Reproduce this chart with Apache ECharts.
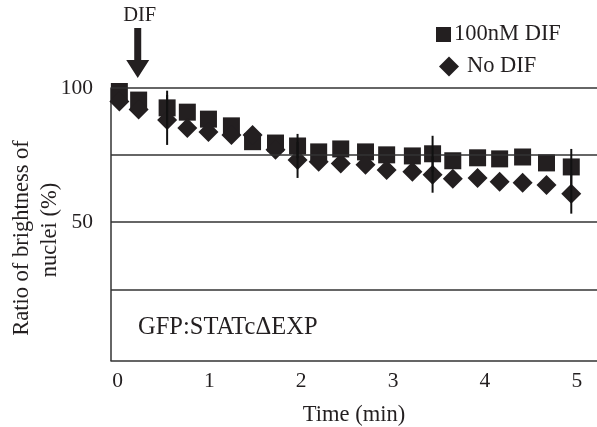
<!DOCTYPE html>
<html>
<head>
<meta charset="utf-8">
<script src="https://cdn.jsdelivr.net/npm/echarts@6/dist/echarts.min.js"></script>
<style>
html,body{margin:0;padding:0;background:#fff;}
#chart{width:597px;height:427px;}
</style>
</head>
<body>
<div id="chart"></div>
<script>
// ---- data ----
const times = [0.02, 0.23, 0.54, 0.76, 0.99, 1.24, 1.47, 1.72, 1.96, 2.19, 2.43, 2.70, 2.93, 3.21, 3.43, 3.65, 3.92, 4.16, 4.41, 4.67, 4.94];
const difValues = [98.7, 95.5, 92.6, 91.0, 88.4, 85.9, 80.0, 79.5, 78.4, 76.2, 77.3, 76.2, 75.1, 74.7, 75.5, 72.9, 74.0, 73.6, 74.3, 72.1, 70.6];
const difErrors = [0, 0, 6.4, 0, 0, 0, 0, 0, 4.5, 0, 0, 0, 0, 0, 6.7, 0, 0, 0, 0, 0, 6.7];
const noDifValues = [95.0, 92.0, 88.1, 85.1, 83.6, 82.5, 82.5, 77.0, 73.2, 72.5, 71.9, 71.4, 69.5, 68.8, 67.7, 66.2, 66.5, 65.1, 64.7, 63.9, 60.6];
const noDifErrors = [0, 0, 9.3, 0, 0, 0, 0, 0, 6.7, 0, 0, 0, 0, 0, 6.7, 0, 0, 0, 0, 0, 7.4];
const seriesNames = ['100nM DIF', 'No DIF'];
const xTickLabels = [0, 1, 2, 3, 4, 5];
const yTickLabels = [50, 100];
const gridValues = [25, 50, 75, 100];
const difTime = 0.22;
const xTitle = 'Time (min)';
const yTitleLines = ['Ratio of brightness of', 'nuclei (%)'];
const constructLabel = 'GFP:STATc\u0394EXP';
const arrowLabel = 'DIF';

// ---- chart ----
const FONT = '"Liberation Serif", "Times New Roman", serif';
const INK = '#231f20';
const chart = echarts.init(document.getElementById('chart'), null, {renderer: 'canvas', width: 597, height: 427});

const errData = [];
times.forEach((t, i) => {
  if (difErrors[i] > 0) errData.push([t, difValues[i], difErrors[i]]);
  if (noDifErrors[i] > 0) errData.push([t, noDifValues[i], noDifErrors[i]]);
});

const option = {
  animation: false,
  backgroundColor: '#fff',
  grid: {left: 111, right: 0, top: 88, bottom: 66.5, containLabel: false, outerBoundsMode: 'none'},
  legend: [
    {data: [{name: seriesNames[0], icon: 'rect'}], left: 436, top: 23, padding: 0,
     itemWidth: 15, itemHeight: 15, selectedMode: false,
     textStyle: {fontFamily: FONT, fontSize: 22.5, color: INK, padding: [0, 0, 0, -2]}},
    {data: [{name: seriesNames[1], icon: 'diamond'}], left: 439, top: 55, padding: 0,
     itemWidth: 20, itemHeight: 20, selectedMode: false,
     textStyle: {fontFamily: FONT, fontSize: 22.5, color: INK, padding: [0, 0, 0, 3]}}
  ],
  xAxis: {
    type: 'value', min: -0.071, max: 5.22,
    name: xTitle, nameLocation: 'middle', nameGap: 43,
    nameTextStyle: {fontFamily: FONT, fontSize: 22.5, color: INK},
    axisLine: {show: true, onZero: false, lineStyle: {color: '#333', width: 1.5}},
    axisTick: {show: false},
    splitLine: {show: false},
    axisLabel: {customValues: xTickLabels, fontFamily: FONT, fontSize: 21.5, color: INK, margin: 10}
  },
  yAxis: {
    type: 'value', min: -1.5, max: 100,
    axisLine: {show: true, onZero: false, lineStyle: {color: '#333', width: 1.5}},
    axisTick: {show: false},
    splitLine: {show: false},
    axisLabel: {customValues: yTickLabels, fontFamily: FONT, fontSize: 21.5, color: INK, margin: 18}
  },
  series: [
    {
      name: 'grid', type: 'scatter', data: [], z: 1, silent: true,
      markLine: {
        silent: true, symbol: ['none', 'none'], label: {show: false},
        lineStyle: {color: '#333', width: 1.5, type: 'solid'},
        data: gridValues.map(v => ({yAxis: v}))
      }
    },
    {
      name: seriesNames[0], type: 'scatter', symbol: 'rect', symbolSize: 17, z: 3, clip: false,
      itemStyle: {color: INK, opacity: 1},
      data: times.map((t, i) => [t, difValues[i]])
    },
    {
      name: seriesNames[1], type: 'scatter', symbol: 'diamond', symbolSize: 20, z: 4, clip: false,
      itemStyle: {color: INK, opacity: 1},
      data: times.map((t, i) => [t, noDifValues[i]])
    },
    {
      name: 'err', type: 'custom', z: 5, silent: true, clip: false,
      data: errData,
      renderItem: function (params, api) {
        const x = api.value(0), v = api.value(1), e = api.value(2);
        const p1 = api.coord([x, v - e]);
        const p2 = api.coord([x, v + e]);
        return {type: 'line', shape: {x1: p1[0], y1: p1[1], x2: p2[0], y2: p2[1]},
                style: {stroke: '#111', lineWidth: 2}};
      }
    }
  ]
};
chart.setOption(option);

const ax = chart.convertToPixel({xAxisIndex: 0}, difTime);
chart.setOption({
  graphic: [
    {type: 'text', x: 22, y: 238, rotation: Math.PI / 2,
     style: {text: yTitleLines[0], fontFamily: FONT, fontSize: 22.5, fill: INK, align: 'center', verticalAlign: 'middle'}},
    {type: 'text', x: 50, y: 230, rotation: Math.PI / 2,
     style: {text: yTitleLines[1], fontFamily: FONT, fontSize: 22.5, fill: INK, align: 'center', verticalAlign: 'middle'}},
    {type: 'text', x: 138, y: 328,
     style: {text: constructLabel, fontFamily: FONT, fontSize: 24.5, fill: INK, align: 'left', verticalAlign: 'middle'}},
    {type: 'text', x: ax + 2, y: 16,
     style: {text: arrowLabel, fontFamily: FONT, fontSize: 20.5, fill: INK, align: 'center', verticalAlign: 'middle'}},
    {type: 'polygon', x: ax, y: 0,
     shape: {points: [[-3.5, 28], [3.5, 28], [3.5, 60], [11.5, 60], [0, 78], [-11.5, 60], [-3.5, 60]]},
     style: {fill: INK}}
  ]
});
</script>
</body>
</html>
